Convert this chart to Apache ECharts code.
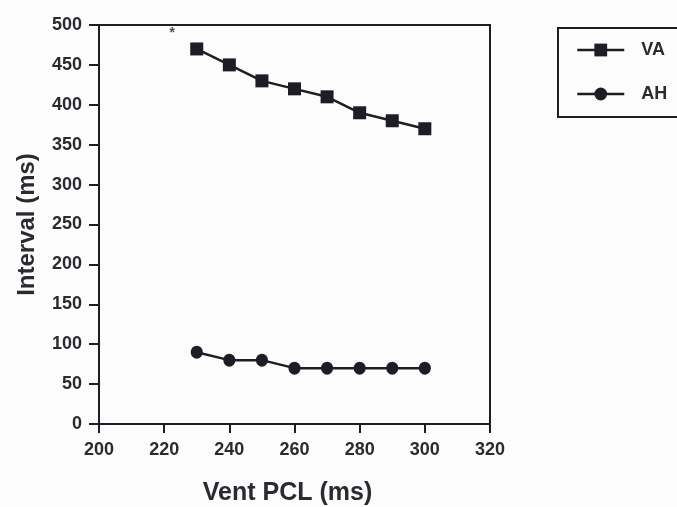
<!DOCTYPE html>
<html lang="en">
<head>
	<meta charset="UTF-8">
	<title>Interval vs Vent PCL</title>
	<style>
		html, body { margin: 0; padding: 0; background: #fcfcfc; }
	</style>
</head>
<body>
	<div id="container" style="width: 677px;height:507px;"></div>

	<script src="https://cdn.jsdelivr.net/npm/echarts@6/dist/echarts.min.js"></script>
	<script>
        // values
        var ventPcl = [230, 240, 250, 260, 270, 280, 290, 300];
        var vaValues = [470, 450, 430, 420, 410, 390, 380, 370];
        var ahValues = [90, 80, 80, 70, 70, 70, 70, 70];
        var starMark = [[222.5, 490]];

        var ink = '#1e1c24';
        var textInk = '#2a2a30';
        var font = "'Liberation Sans', Arial, sans-serif";

        function pairs(xs, ys) {
            return xs.map(function (x, i) { return [x, ys[i]]; });
        }

        var option = {
            backgroundColor: '#fcfcfc',
            animation: false,
            grid: {
                left: 99, top: 25, right: 187, bottom: 83,
                outerBoundsMode: 'none',
                containLabel: false,
                show: true, borderColor: ink, borderWidth: 2,
                backgroundColor: 'transparent'
            },
            legend: {
                left: 558, top: 28,
                orient: 'vertical',
                data: ['VA', 'AH'],
                itemWidth: 47, itemHeight: 16, itemGap: 24,
                padding: [12, 30, 13, 18],
                borderColor: ink, borderWidth: 2,
                lineStyle: { width: 2.5 },
                textStyle: {
                    color: textInk, fontSize: 18, fontWeight: 'bold',
                    fontFamily: font, lineHeight: 20,
                    padding: [0, 0, 0, 12]
                }
            },
            xAxis: {
                type: 'value',
                min: 200, max: 320, interval: 20,
                name: 'Vent PCL (ms)',
                nameLocation: 'middle',
                nameGap: 57,
                nameTextStyle: {
                    color: textInk, fontSize: 25, fontWeight: 'bold', fontFamily: font,
                    padding: [0, 14, 0, 0]
                },
                splitLine: { show: false },
                axisLine: { lineStyle: { color: ink, width: 2 } },
                axisTick: { length: 9, lineStyle: { color: ink, width: 2 } },
                axisLabel: { color: textInk, fontSize: 18, fontWeight: 'bold', fontFamily: font, margin: 17 }
            },
            yAxis: {
                type: 'value',
                min: 0, max: 500, interval: 50,
                name: 'Interval (ms)',
                nameLocation: 'middle',
                nameGap: 60,
                nameTextStyle: { color: textInk, fontSize: 24, fontWeight: 'bold', fontFamily: font },
                splitLine: { show: false },
                axisLine: { show: true, lineStyle: { color: ink, width: 2 } },
                axisTick: { show: true, length: 10, lineStyle: { color: ink, width: 2 } },
                axisLabel: { color: textInk, fontSize: 18, fontWeight: 'bold', fontFamily: font, margin: 17 }
            },
            series: [
                {
                    name: 'VA',
                    type: 'line',
                    data: pairs(ventPcl, vaValues),
                    symbol: 'rect',
                    symbolSize: 13,
                    itemStyle: { color: ink },
                    lineStyle: { color: ink, width: 2.5 }
                },
                {
                    name: 'AH',
                    type: 'line',
                    data: pairs(ventPcl, ahValues),
                    symbol: 'circle',
                    symbolSize: [12, 13],
                    itemStyle: { color: ink },
                    lineStyle: { color: ink, width: 2.5 }
                },
                {
                    name: 'star',
                    type: 'scatter',
                    data: starMark,
                    symbolSize: 0,
                    label: {
                        show: true, position: 'inside', formatter: '*',
                        color: ink, fontSize: 14, fontWeight: 'bold', fontFamily: font
                    }
                }
            ]
        };
        var myChart = echarts.init(document.getElementById('container'));
        myChart.setOption(option);
    </script>
</body>
</html>
